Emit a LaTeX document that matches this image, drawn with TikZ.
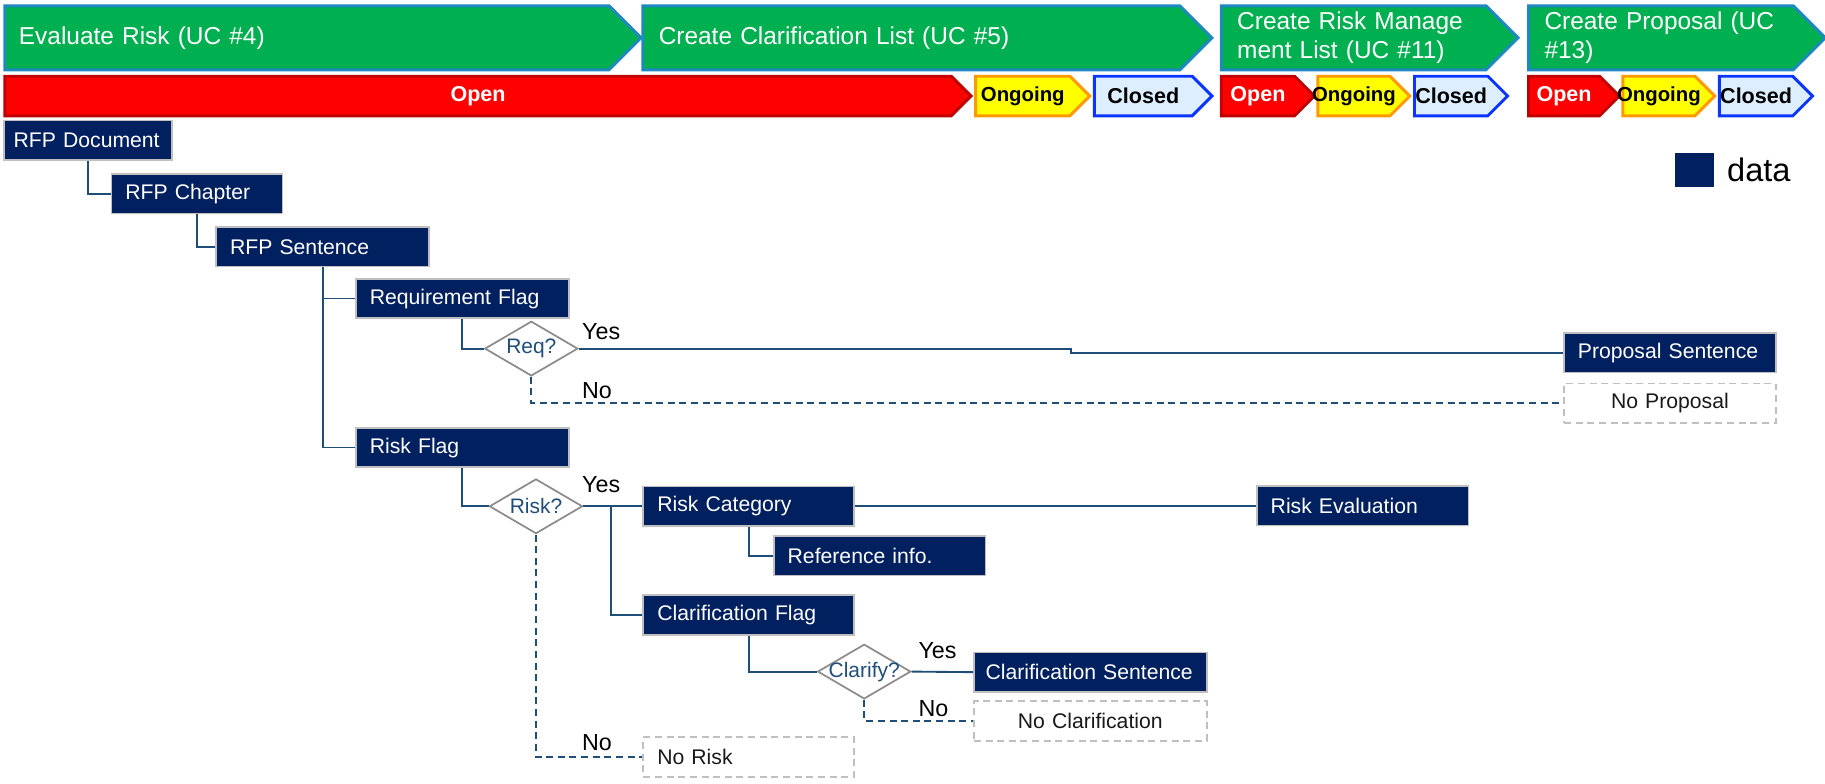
\documentclass[tikz,border=0pt]{standalone}
\usepackage{fontspec}
\setmainfont{Liberation Sans}
\usetikzlibrary{positioning,shapes.geometric,shapes.symbols}

\definecolor{navy}{HTML}{002060}
\definecolor{boxedge}{HTML}{BFBFBF}
\definecolor{linkblue}{HTML}{1F4E79}
\definecolor{askedge}{HTML}{8C8C8C}
\definecolor{phasegreen}{HTML}{00B050}
\definecolor{phaseedge}{HTML}{1E88C0}
\definecolor{openred}{HTML}{FF0000}
\definecolor{openedge}{HTML}{C00000}
\definecolor{ongofill}{HTML}{FFFF00}
\definecolor{ongoedge}{HTML}{FF9900}
\definecolor{closfill}{HTML}{DCEEFF}
\definecolor{closedge}{HTML}{0A35FF}

\begin{document}
\begin{tikzpicture}[x=1pt, y=-1pt,
  phase/.style={signal, signal to=east, draw=phaseedge, line width=2.5pt, fill=phasegreen, text=white, font=\fontsize{21}{25}\selectfont, minimum height=55pt, inner xsep=12pt, inner ysep=0pt, align=left, anchor=west},
  stat/.style={signal, signal to=east, line width=2.5pt, minimum height=34pt, inner sep=0pt, font=\fontsize{18.5}{20}\selectfont\bfseries},
  statopen/.style={stat, draw=openedge, fill=openred, text=white},
  statongo/.style={stat, draw=ongoedge, fill=ongofill, text=black, minimum width=79pt, inner xsep=-6pt, font=\fontsize{17.5}{20}\selectfont\bfseries},
  statclos/.style={stat, draw=closedge, fill=closfill, text=black, minimum width=80pt},
  databox/.style={rectangle, draw=boxedge, line width=1.5pt, fill=navy, text=white, font=\fontsize{18.2}{22}\selectfont, minimum height=34pt, inner xsep=12pt, text width=#1, align=left, anchor=west},
  databox/.default=158pt,
  nobox/.style={rectangle, draw=boxedge, line width=1.5pt, dash pattern=on 6pt off 4pt, text=black!90, font=\fontsize{18.2}{22}\selectfont, minimum height=34pt, inner xsep=12pt, text width=#1, align=center, anchor=west},
  nobox/.default=158pt,
  askbox/.style={diamond, aspect=1.7, draw=askedge, line width=1.5pt, fill=white, text=linkblue, font=\fontsize{18}{20}\selectfont, minimum width=80pt, minimum height=47pt, inner xsep=-12pt, inner ysep=0pt},
  link/.style={draw=linkblue, line width=1.6pt},
  nolink/.style={link, dash pattern=on 6pt off 4pt},
  yn/.style={font=\fontsize{20}{24}\selectfont, inner sep=0pt, anchor=base west}
]
\useasboundingbox (0,0) rectangle (1568,673);

% use cases
\node[phase, minimum width=545pt, text width=495pt] (uc4) at (3,32.5) {Evaluate Risk (UC \#4)};
\node[phase, minimum width=489pt, text width=434pt] (uc5) at (551,32.5) {Create Clarification List (UC \#5)};
\node[phase, minimum width=255pt, text width=200pt] (uc11) at (1048,32.5) {Create Risk Manage\\ment List (UC \#11)};
\node[phase, minimum width=255pt, text width=200pt] (uc13) at (1312,32.5) {Create Proposal (UC\\\#13)};

% status
\node[statopen, minimum width=830pt, anchor=west] (open1) at (3,82.5) {Open};
\node[statongo, right=1pt of open1, minimum width=98pt] (ongo1) {Ongoing};
\node[statclos, right=1pt of ongo1, minimum width=101pt] (clos1) {Closed};
\node[statopen, minimum width=80pt, anchor=west] (open2) at (1048,82.5) {Open};
\node[statongo, right=0pt of open2] (ongo2) {Ongoing};
\node[statclos, right=1pt of ongo2] (clos2) {Closed};
\node[statopen, minimum width=78pt, anchor=west] (open3) at (1312,82.5) {Open};
\node[statongo, right=0pt of open3] (ongo3) {Ongoing};
\node[statclos, right=1pt of ongo3] (clos3) {Closed};

% legend
\node[rectangle, fill=navy, minimum width=33pt, minimum height=29pt] (key) at (1456,146) {};
\node[right=11pt of key, font=\fontsize{28}{32}\selectfont, inner sep=0pt] (keytext) {data};

% data tree
\node[databox=128pt, inner xsep=8pt] (doc) at (3,120.5) {RFP Document};
\node[databox=123pt] (chap) at (95,166.5) {RFP Chapter};
\node[databox=159pt] (sent) at (185,212) {RFP Sentence};
\node[databox=159pt] (reqflag) at (305,256.5) {Requirement Flag};
\node[databox=159pt] (riskflag) at (305,384.5) {Risk Flag};
\node[askbox] (req) at (456.5,299.5) {Req?};
\node[askbox] (risk) at (460.5,435) {Risk?};
\node[databox] (prop) at (1343,303) {Proposal Sentence};
\node[nobox] (noprop) at (1343,346.5) {No Proposal};
\node[databox=157pt] (riskcat) at (552,435) {Risk Category};
\node[databox] (refinfo) at (664,477.5) {Reference info.};
\node[databox] (riskeval) at (1079,434.5) {Risk Evaluation};
\node[databox=157pt] (clarflag) at (552,528.5) {Clarification Flag};
\node[askbox] (clarify) at (742.5,577) {Clarify?};
\node[databox=180pt, inner xsep=10pt] (clarsent) at (836,577.5) {Clarification Sentence};
\node[nobox=176pt] (noclar) at (836,619.5) {No Clarification};
\node[nobox=157pt, align=left] (norisk) at (552,650.5) {No Risk};
\coordinate (split) at (525,435);

\node[yn] (reqyes) at (500,292) {Yes};
\node[yn] (reqno) at (500,342) {No};
\node[yn] (riskyes) at (500,423) {Yes};
\node[yn] (riskno) at (500,645) {No};
\node[yn] (claryes) at (789,566) {Yes};
\node[yn] (clarno) at (789,616) {No};

\draw[link] (doc.south) |- (chap.west);
\draw[link] (chap.south) |- (sent.west);
\draw[link] (sent.south) |- (reqflag.west);
\draw[link] (sent.south) |- (riskflag.west);
\draw[link] (reqflag.south) |- (req.west);
\draw[link] (riskflag.south) |- (risk.west);
\draw[link] (req.east) -- ++(423,0) |- (prop.west);
\draw[nolink] (req.south) |- (noprop.west);
\draw[link] (risk.east) -- (riskcat.west);
\draw[link] (split) |- (clarflag.west);
\draw[nolink] (risk.south) |- (norisk.west);
\draw[link] (riskcat.east) -- ++(174,0) |- (riskeval.west);
\draw[link] (riskcat.south) |- (refinfo.west);
\draw[link] (clarflag.south) |- (clarify.west);
\draw[link] (clarify.east) -- (clarsent.west);
\draw[nolink] (clarify.south) |- (noclar.west);
\end{tikzpicture}
\end{document}
